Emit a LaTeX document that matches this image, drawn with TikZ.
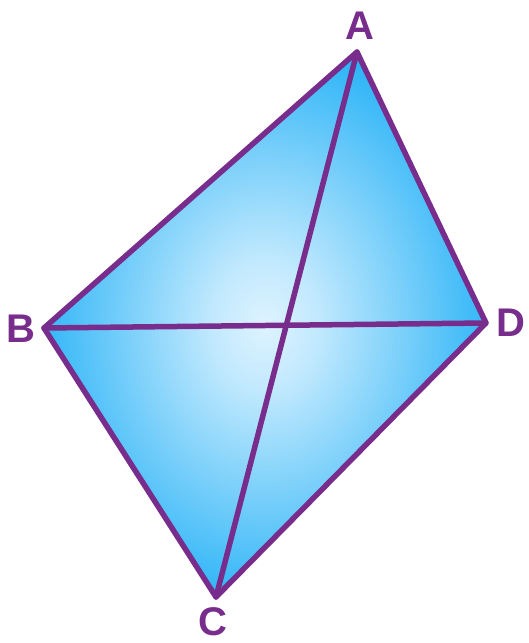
\documentclass[tikz,border=0pt]{standalone}
\usepackage{fontspec}
\setmainfont{Liberation Sans}
\definecolor{edgepurple}{RGB}{120,45,140}
\definecolor{outerblue}{RGB}{30,175,246}
\definecolor{innerblue}{RGB}{222,243,255}
\pgfdeclareradialshading{quadshade}{\pgfpoint{0bp}{0bp}}{color(0bp)=(innerblue); color(6bp)=(innerblue!85!outerblue); color(28bp)=(outerblue); color(50bp)=(outerblue)}
\begin{document}
\begin{tikzpicture}[x=1pt,y=-1pt,
  edge/.style={draw=edgepurple,line width=5.5pt,line join=round,line cap=round},
  vlabel/.style={text=edgepurple,font=\fontsize{40}{48}\selectfont\bfseries,inner sep=0pt}]
\useasboundingbox (0,0) rectangle (529,643);
\coordinate (A) at (357,52);
\coordinate (B) at (44,328);
\coordinate (D) at (486,323);
\coordinate (C) at (216,597);
\shade[shading=quadshade] (A) -- (D) -- (C) -- (B) -- cycle;
\draw[edge] (A) -- (D) -- (C) -- (B) -- cycle;
\draw[edge] (A) -- (C);
\draw[edge] (B) -- (D);
\node[vlabel] (la) at (360,26) {A};
\node[vlabel] (lb) at (21,329) {B};
\node[vlabel] (ld) at (511,323) {D};
\node[vlabel] (lc) at (213,622) {C};
\end{tikzpicture}
\end{document}
